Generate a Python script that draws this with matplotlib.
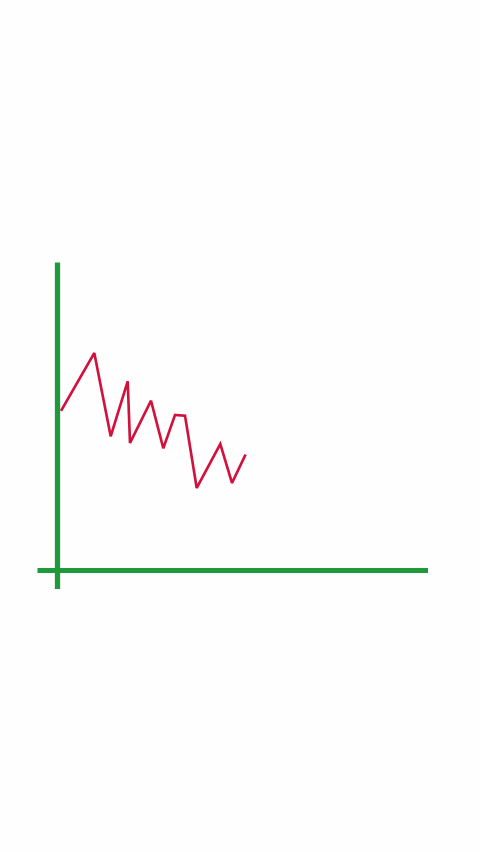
import matplotlib
matplotlib.use("Agg")
import matplotlib.pyplot as plt

# series (x position, value)
x_vals = [4.7, 37.3, 53.7, 70.7, 73.0, 94.0, 106.3, 118.0, 128.0, 139.7, 163.3, 175.0, 188.0]
y_vals = [160.3, 217.0, 133.7, 188.7, 127.0, 169.3, 121.7, 155.0, 154.3, 82.0, 126.0, 87.0, 114.3]

W, H = 480, 853
fig = plt.figure(figsize=(W / 100, H / 100), dpi=100)
fig.patch.set_facecolor("#FEFEFE")
ax = fig.add_axes([37 / W, (H - 590) / H, (428 - 37) / W, (590 - 263) / H])
ax.set_facecolor("#FEFEFE")
ax.set_xlim(-20, 371)
ax.set_ylim(-19, 308)
for s in ax.spines.values():
    s.set_visible(False)
ax.set_xticks([])
ax.set_yticks([])

green = "#1E9A3C"
ax.axvline(0, color=green, lw=3.8, solid_capstyle="butt")
ax.axhline(0, color=green, lw=3.6, solid_capstyle="butt")
ax.plot(x_vals, y_vals, color="#D2103C", lw=1.9, solid_joinstyle="miter")

fig.savefig("out.png", dpi=100, facecolor=fig.get_facecolor())
